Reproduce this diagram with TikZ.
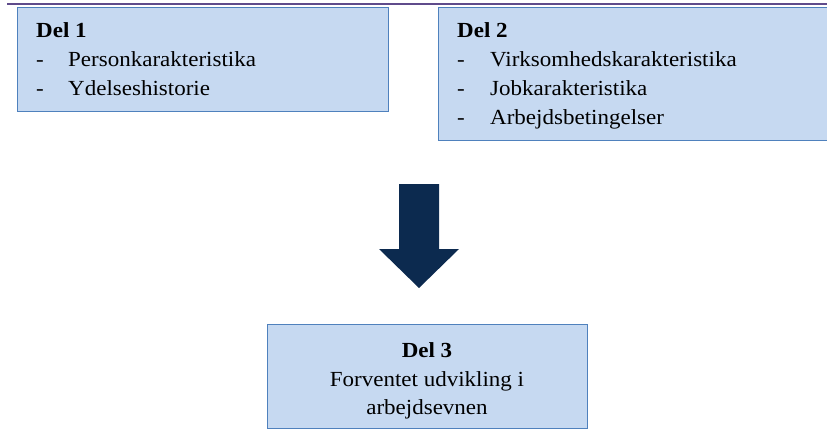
\documentclass[tikz,border=0pt]{standalone}
\usepackage{fontspec}
\setmainfont[FakeStretch=1.07]{Liberation Serif}
\definecolor{boxfill}{HTML}{C6D9F1}
\definecolor{boxline}{HTML}{4F81BD}
\definecolor{arrowcol}{HTML}{0C2A4F}
\definecolor{topline}{HTML}{5F4B8B}
\begin{document}
\begin{tikzpicture}[x=1pt,y=-1pt,
  partbox/.style={draw=boxline, fill=boxfill, line width=1.4pt, inner sep=0pt, anchor=north west},
  txt/.style={anchor=base west, inner sep=0pt, font=\fontsize{21.5}{25}\selectfont},
  ctxt/.style={anchor=base, inner sep=0pt, font=\fontsize{21.5}{25}\selectfont},
  bold/.style={font=\fontsize{21.5}{25}\selectfont\bfseries}]
\useasboundingbox (0,0) rectangle (827,431);
% top rule
\coordinate (tl) at (7,4);
\coordinate (tr) at (827,4);
\draw[topline, line width=2.5pt] (tl) -- (tr);
% boxes
\node[partbox, minimum width=371pt, minimum height=104pt] (b1) at (17,7) {};
\node[partbox, minimum width=392pt, minimum height=133pt] (b2) at (438,7) {};
\node[partbox, minimum width=320pt, minimum height=104pt] (b3) at (267,324) {};
% box 1 text
\node[txt, bold] (h1) at (36,37.5) {Del 1};
\node[txt] (d11) at (36,66.5) {-};
\node[txt] (t11) at (68,66.5) {Personkarakteristika};
\node[txt] (d12) at (36,95.5) {-};
\node[txt] (t12) at (68,95.5) {Ydelseshistorie};
% box 2 text
\node[txt, bold] (h2) at (457,37.5) {Del 2};
\node[txt] (d21) at (457,66.5) {-};
\node[txt] (t21) at (490,66.5) {Virksomhedskarakteristika};
\node[txt] (d22) at (457,95.5) {-};
\node[txt] (t22) at (490,95.5) {Jobkarakteristika};
\node[txt] (d23) at (457,124.5) {-};
\node[txt] (t23) at (490,124.5) {Arbejdsbetingelser};
% box 3 text
\node[ctxt, bold] (h3) at (427,357) {Del 3};
\node[ctxt] (t31) at (427,386) {Forventet udvikling i};
\node[ctxt] (t32) at (427,414) {arbejdsevnen};
% block arrow
\fill[arrowcol] (399,184) -- (439,184) -- (439,249) -- (459,249) -- (419,288) -- (379,249) -- (399,249) -- cycle;
\end{tikzpicture}
\end{document}
